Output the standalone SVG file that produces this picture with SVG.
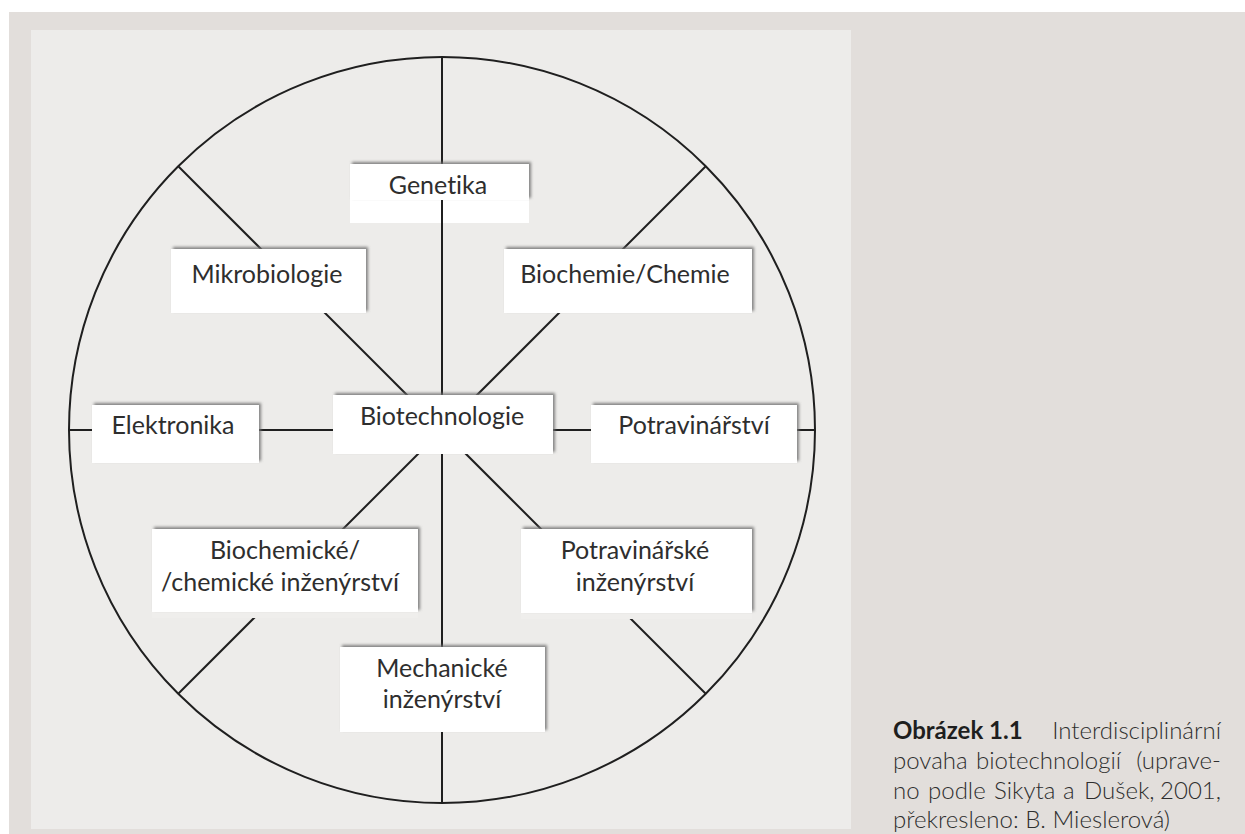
<svg xmlns="http://www.w3.org/2000/svg" width="1245" height="834" viewBox="0 0 1245 834">
  <defs>
    <filter id="boxShadow" x="-10%" y="-30%" width="120%" height="160%">
      <feDropShadow dx="2" dy="-2" stdDeviation="1.4" flood-color="#6f6f6f" flood-opacity="0.85"/>
    </filter>
  </defs>
  <style>
    .page { fill: #e2dedb; }
    .panel { fill: #edecea; }
    .wire { stroke: #1f1f1f; stroke-width: 2; fill: none; }
    .box { fill: #ffffff; filter: url(#boxShadow); }
    .plain { fill: #ffffff; }
    .gap { fill: #efeeec; }
    text { font-variant-ligatures: none; }
    .label { font-family: Lato, "Liberation Sans", sans-serif; font-size: 25px; fill: #2e2e2e; text-anchor: middle; }
    .cap { font-family: Lato, "Liberation Sans", sans-serif; font-size: 24px; font-weight: 300; fill: #2e2e2e; }
    .capb { font-family: Lato, "Liberation Sans", sans-serif; font-size: 24px; font-weight: 700; fill: #1e1e1e; }
  </style>

  <!-- page background -->
  <rect x="0" y="0" width="1245" height="834" fill="#ffffff"/>
  <rect class="page" x="9" y="12" width="1236" height="822"/>
  <rect class="panel" x="31" y="30" width="820" height="799"/>

  <!-- lower white strip of the Genetika label, lies under the spoke -->
  <rect class="plain" x="350" y="200" width="179" height="23"/>

  <!-- connectors: rim circle and spokes -->
  <g id="connectors">
    <circle class="wire" cx="442" cy="430" r="373"/>
    <line class="wire" x1="442" y1="57" x2="442" y2="803"/>
    <line class="wire" x1="69" y1="430" x2="815" y2="430"/>
    <line class="wire" x1="178" y1="166" x2="706" y2="694"/>
    <line class="wire" x1="706" y1="166" x2="178" y2="694"/>
  </g>

  <g id="genetika">
    <rect class="box" x="350" y="164" width="179" height="36"/>
    <text class="label" x="438" y="194">Genetika</text>
  </g>

  <g id="mikrobiologie">
    <rect class="box" x="171" y="249" width="195" height="64"/>
    <text class="label" x="267" y="283">Mikrobiologie</text>
  </g>

  <g id="biochemie-chemie">
    <rect class="box" x="504" y="249" width="248" height="64"/>
    <text class="label" x="625" y="283">Biochemie/Chemie</text>
  </g>

  <g id="biotechnologie">
    <rect class="box" x="333" y="395" width="220" height="59"/>
    <text class="label" x="442" y="425">Biotechnologie</text>
  </g>

  <g id="elektronika">
    <rect class="box" x="92" y="405" width="167" height="58"/>
    <text class="label" x="173" y="434">Elektronika</text>
  </g>

  <g id="potravinarstvi">
    <rect class="box" x="591" y="405" width="206" height="58"/>
    <text class="label" x="694" y="434">Potravinářství</text>
  </g>

  <g id="biochemicke-inzenyrstvi">
    <rect class="gap" x="152" y="612" width="266" height="6"/>
    <rect class="box" x="152" y="529" width="266" height="83"/>
    <text class="label" x="285" y="559">Biochemické/</text>
    <text class="label" x="280" y="591">/chemické inženýrství</text>
  </g>

  <g id="potravinarske-inzenyrstvi">
    <rect class="gap" x="521" y="613" width="231" height="6"/>
    <rect class="box" x="521" y="529" width="231" height="84"/>
    <text class="label" x="635" y="559">Potravinářské</text>
    <text class="label" x="635" y="591">inženýrství</text>
  </g>

  <g id="mechanicke-inzenyrstvi">
    <rect class="box" x="340" y="647" width="205" height="85"/>
    <text class="label" x="442" y="677">Mechanické</text>
    <text class="label" x="442" y="708">inženýrství</text>
  </g>

  <!-- figure caption, justified word by word -->
  <g id="caption">
    <text class="capb" x="893" y="739">Obrázek 1.1</text>
    <text class="cap" x="1221" y="739" text-anchor="end">Interdisciplinární</text>
    <text class="cap" x="893" y="769">povaha</text>
    <text class="cap" x="976" y="769">biotechnologií</text>
    <text class="cap" x="1221" y="769" text-anchor="end">(uprave-</text>
    <text class="cap" x="893" y="799">no</text>
    <text class="cap" x="928" y="799">podle</text>
    <text class="cap" x="994" y="799">Sikyta</text>
    <text class="cap" x="1063" y="799">a</text>
    <text class="cap" x="1084" y="799">Dušek,</text>
    <text class="cap" x="1221" y="799" text-anchor="end">2001,</text>
    <text class="cap" x="893" y="828">překresleno: B. Mieslerová)</text>
  </g>
</svg>
